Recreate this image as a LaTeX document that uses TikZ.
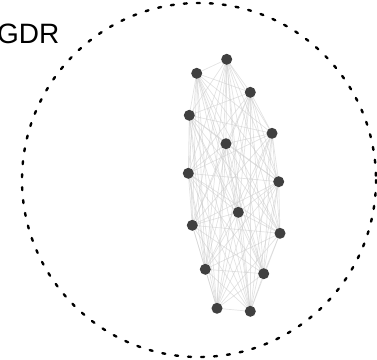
\documentclass[tikz,border=0pt]{standalone}
\usepackage{fontspec}
\setmainfont{Liberation Sans}
\usetikzlibrary{backgrounds}
\definecolor{nodegray}{HTML}{404040}
\tikzset{
  dot/.style={circle, fill=nodegray, draw=none, minimum size=11pt, inner sep=0pt},
  edge/.style={draw=black!20, line width=0.7pt, opacity=0.55},
  ring/.style={draw=black, line width=2.4pt, line cap=round, dash pattern=on 3pt off 10pt}
}
\begin{document}
\begin{tikzpicture}[x=1pt,y=-1pt]
\useasboundingbox (0,0) rectangle (377,359);
\coordinate (ctr) at (199,180);
\draw[ring] (ctr) circle[radius=177];
\node[anchor=base west, font=\fontsize{28}{30}\selectfont, inner sep=0pt] (lbl) at (-3,43) {GDR};
\foreach \n/\x/\y in {1/226.7/59.3, 2/196.7/73.3, 3/250.3/92.3, 4/189.3/115.3, 5/272/133.3,
  6/226/143.7, 7/188.3/173.3, 8/278.7/181.7, 9/238.3/212.3, 10/192.3/225.3,
  11/280/233.3, 12/205.3/269.3, 13/263.7/273.7, 14/217/308.3, 15/250.3/311.3}
  \node[dot] (n\n) at (\x,\y) {};
\begin{pgfonlayer}{background}
\foreach \i in {1,...,14}{
  \pgfmathtruncatemacro\s{\i+1}
  \foreach \j in {\s,...,15}
    \draw[edge] (n\i.center) -- (n\j.center);
}
\end{pgfonlayer}
\end{tikzpicture}
\end{document}
